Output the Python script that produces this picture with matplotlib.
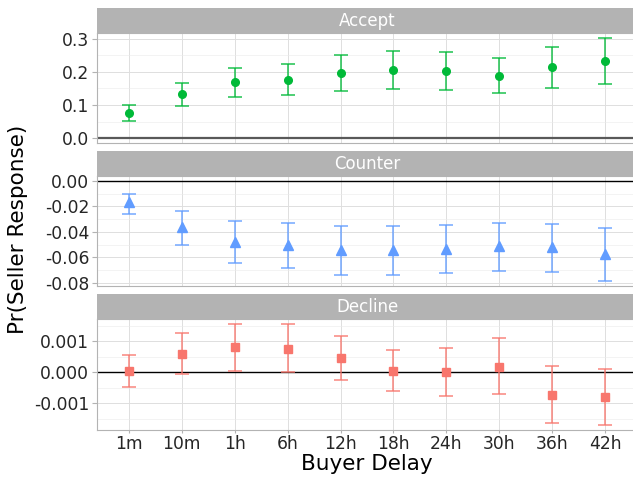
import numpy as np
import matplotlib
matplotlib.use("Agg")
import matplotlib.pyplot as plt
from matplotlib.ticker import FixedLocator, FuncFormatter

# Buyer delay categories
delays = ["1m", "10m", "1h", "6h", "12h", "18h", "24h", "30h", "36h", "42h"]

# Accept panel: estimate, upper, lower
accept_est = [0.076, 0.132, 0.169, 0.176, 0.197, 0.205, 0.203, 0.189, 0.215, 0.233]
accept_hi = [0.100, 0.168, 0.213, 0.223, 0.251, 0.263, 0.260, 0.242, 0.277, 0.303]
accept_lo = [0.053, 0.098, 0.123, 0.129, 0.142, 0.148, 0.146, 0.136, 0.152, 0.165]

# Counter panel
counter_est = [-0.0169, -0.0362, -0.0477, -0.0505, -0.0545, -0.0542, -0.0532, -0.0513, -0.0521, -0.0573]
counter_hi = [-0.0099, -0.0240, -0.0313, -0.0331, -0.0357, -0.0354, -0.0347, -0.0331, -0.0336, -0.0373]
counter_lo = [-0.0258, -0.0505, -0.0646, -0.0688, -0.0743, -0.0740, -0.0727, -0.0706, -0.0717, -0.0787]

# Decline panel
decline_est = [0.00004, 0.00060, 0.00080, 0.00076, 0.00045, 0.00003, -0.00001, 0.00018, -0.00072, -0.00081]
decline_hi = [0.00055, 0.00127, 0.00155, 0.00155, 0.00117, 0.00070, 0.00077, 0.00109, 0.00020, 0.00010]
decline_lo = [-0.00048, -0.00005, 0.00005, 0.00000, -0.00025, -0.00061, -0.00077, -0.00070, -0.00162, -0.00170]

W, H = 633, 479
fig = plt.figure(figsize=(W / 100, H / 100), dpi=100)
fig.patch.set_facecolor("white")

x = np.arange(1, len(delays) + 1)

# panel info: name, est, hi, lo, colour, marker, size, top/bottom px, ticks, decimals, zero line style
panels = [
    ("Accept", accept_est, accept_hi, accept_lo, "#00BA38", "o", 5.5, 33, 143,
     [0.0, 0.1, 0.2, 0.3], 1, (-0.015, 0.318), ("#595959", 1.6)),
    ("Counter", counter_est, counter_hi, counter_lo, "#619CFF", "^", 6.5, 176, 286,
     [-0.08, -0.06, -0.04, -0.02, 0.0], 2, (-0.0826, 0.0039), ("black", 1.0)),
    ("Decline", decline_est, decline_hi, decline_lo, "#F8766D", "s", 5.5, 319, 430,
     [-0.001, 0.0, 0.001], 3, (-0.00186, 0.00171), ("black", 1.0)),
]

left_px, right_px = 97, 637
strip_h = 25

for name, est, hi, lo, col, mk, ms, top, bot, ticks, dec, ylim, zl in panels:
    ax = fig.add_axes([left_px / W, 1 - bot / H, (right_px - left_px) / W, (bot - top) / H])
    ax.set_facecolor("white")
    est = np.array(est)
    yerr = [est - np.array(lo), np.array(hi) - est]

    ax.axhline(0, color=zl[0], lw=zl[1], zorder=2)
    ax.errorbar(x, est, yerr=yerr, fmt="none", ecolor=col, elinewidth=1.3,
                capsize=5, capthick=1.3, alpha=0.75, zorder=3)
    ax.plot(x, est, linestyle="none", marker=mk, color=col, markersize=ms, zorder=4)

    ax.set_xlim(0.4, 10.6)
    ax.set_ylim(*ylim)

    # grid lines like theme_light
    step = ticks[1] - ticks[0]
    minors = [t + step / 2 for t in [ticks[0] - step] + ticks]
    minors = [m for m in minors if ylim[0] < m < ylim[1]]
    ax.yaxis.set_major_locator(FixedLocator(ticks))
    ax.yaxis.set_minor_locator(FixedLocator(minors))
    ax.yaxis.set_major_formatter(FuncFormatter(lambda v, p, d=dec: f"{v:.{d}f}".replace("-0." + "0" * d, "0." + "0" * d)))
    ax.set_xticks(x)
    ax.grid(True, which="major", color="#DEDEDE", lw=0.7, zorder=0)
    ax.grid(True, which="minor", axis="y", color="#EBEBEB", lw=0.4, zorder=0)
    ax.set_axisbelow(True)

    ax.tick_params(axis="y", which="major", length=3.5, color="#B3B3B3", labelsize=12.3,
                   labelcolor="#262626", pad=2)
    ax.tick_params(axis="y", which="minor", length=0)
    ax.tick_params(axis="x", length=2.2, color="#B3B3B3", pad=1.2)
    if name == "Decline":
        ax.set_xticklabels(delays, fontsize=12.3, color="#262626")
    else:
        ax.set_xticklabels([])
        ax.tick_params(axis="x", length=0)

    for s in ax.spines.values():
        s.set_color("#B3B3B3")
        s.set_linewidth(0.8)

    # facet strip on top
    sax = fig.add_axes([left_px / W, 1 - top / H, (right_px - left_px) / W, strip_h / H])
    sax.set_facecolor("#B3B3B3")
    sax.set_xticks([])
    sax.set_yticks([])
    for s in sax.spines.values():
        s.set_visible(False)
    sax.text(0.5, 0.47, name, color="white", fontsize=12, ha="center", va="center",
             transform=sax.transAxes)

fig.text(18 / W, 1 - 229 / H, "Pr(Seller Response)", rotation=90, ha="center", va="center",
         fontsize=15.5, color="black")
fig.text(367 / W, 1 - 464 / H, "Buyer Delay", ha="center", va="center", fontsize=15.5, color="black")

fig.savefig("out.png", dpi=100)
